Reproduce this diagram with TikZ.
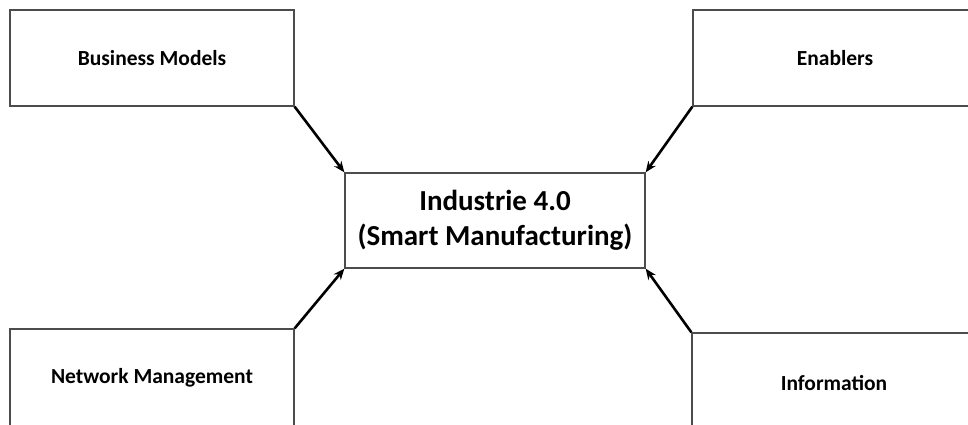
\documentclass[tikz,border=0pt]{standalone}
\usepackage{fontspec}
\setmainfont{Carlito}
\usetikzlibrary{arrows.meta}
\begin{document}
\begin{tikzpicture}[x=1pt,y=1pt,
  box/.style={draw=black!70,line width=1.3pt,fill=white,inner sep=0pt,
    font=\bfseries\fontsize{21.5}{26}\selectfont,align=center},
  core/.style={box,font=\bfseries\fontsize{29}{35}\selectfont},
  feed/.style={line width=2.6pt,-{Stealth[length=11pt,width=9pt]}}]
\useasboundingbox (0,0) rectangle (968,425);
\clip (0,0) rectangle (968,425);
% central concept
\node[core,minimum width=300pt,minimum height=95pt] (c) at (495,204.5)
  {Industrie 4.0\\(Smart Manufacturing)};
% surrounding factors
\node[box,minimum width=284pt,minimum height=96pt] (bm) at (152,367) {Business Models};
\node[box,minimum width=284pt,minimum height=96pt] (en) at (835,367) {Enablers};
\node[box,minimum width=284pt,minimum height=98pt] (nm) at (152,47) {Network Management};
\node[box,minimum width=284pt,minimum height=100pt] (in) at (834,42) {Information};
% influences
\draw[feed] (bm.south east) -- (c.north west);
\draw[feed] (en.south west) -- (c.north east);
\draw[feed] (nm.north east) -- (c.south west);
\draw[feed] (in.north west) -- (c.south east);
\end{tikzpicture}
\end{document}
